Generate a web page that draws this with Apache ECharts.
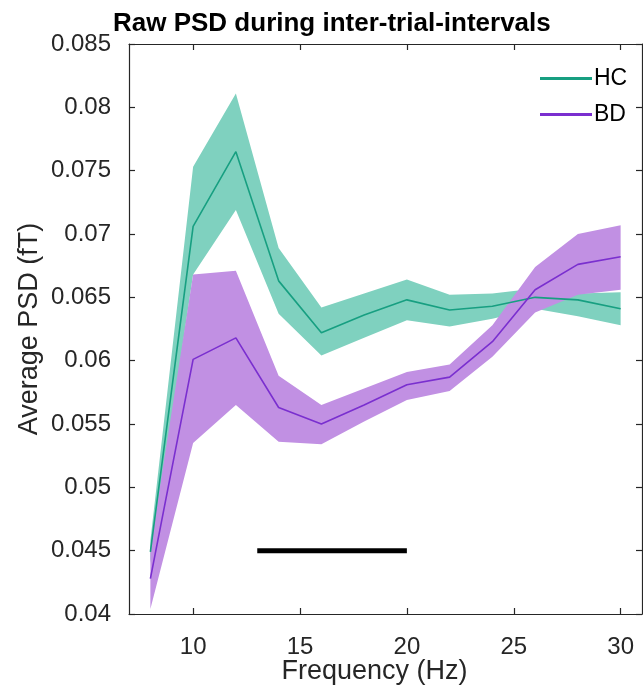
<!DOCTYPE html>
<html><head><meta charset="utf-8">
<script src="https://cdn.jsdelivr.net/npm/echarts@6/dist/echarts.min.js"></script>
<style>html,body{margin:0;padding:0;background:#fff}#c{width:643px;height:686px}</style>
</head><body><div id="c"></div>
<script>
const freqs   = [8, 10, 12, 14, 16, 18, 20, 22, 24, 26, 28, 30];
const hcMean  = [0.0449, 0.0706, 0.0765, 0.0663, 0.0622, 0.0636, 0.0648, 0.0640, 0.0643, 0.0650, 0.0648, 0.0641];
const hcUpper = [0.0458, 0.0753, 0.0811, 0.0689, 0.0642, 0.0653, 0.0664, 0.0652, 0.0653, 0.0657, 0.0653, 0.0654];
const hcLower = [0.0440, 0.0668, 0.0719, 0.0637, 0.0604, 0.0618, 0.0632, 0.0627, 0.0633, 0.0641, 0.0635, 0.0628];
const bdMean  = [0.0428, 0.0601, 0.0618, 0.0563, 0.0550, 0.0565, 0.0581, 0.0587, 0.0615, 0.0656, 0.0676, 0.0682];
const bdUpper = [0.0452, 0.0668, 0.0671, 0.0588, 0.0565, 0.0578, 0.0591, 0.0597, 0.0628, 0.0674, 0.0700, 0.0707];
const bdLower = [0.0404, 0.0535, 0.0565, 0.0536, 0.0534, 0.0552, 0.0569, 0.0576, 0.0603, 0.0638, 0.0652, 0.0656];
const xTicks  = [10, 15, 20, 25, 30];
const sigStart = 13, sigEnd = 20, sigLevel = 0.045;

const HC_LINE = '#179f81', HC_BAND = '#7fd1bf';
const BD_LINE = '#7a2fcf', BD_BAND = '#c190e3';
const AX = '#262626';
const FONT = 'Liberation Sans';

function pts(vals){ return freqs.map((f,i)=>[f, vals[i]]); }
function bandRows(lo, hi){ return freqs.map((f,i)=>[f, lo[i], hi[i]]); }

function bandSeries(name, rows, color, z){
  return {
    name:name, type:'custom', silent:true, z:z,
    encode:{x:0, y:[1,2]},
    data:rows, clip:true,
    renderItem:function(params, api){
      if (params.dataIndex !== 0) return null;
      const up = [], dn = [];
      for (let i = 0; i < rows.length; i++){
        up.push(api.coord([rows[i][0], rows[i][2]]));
        dn.push(api.coord([rows[i][0], rows[i][1]]));
      }
      const poly = up.concat(dn.reverse());
      return {type:'polygon', shape:{points:poly}, style:{fill:color, stroke:null}};
    }
  };
}

const chart = echarts.init(document.getElementById('c'), null, {renderer:'canvas'});
const tick = {show:true, inside:true, length:6, lineStyle:{color:AX, width:1.2}};
const line = {show:true, onZero:false, lineStyle:{color:AX, width:1.2}};
chart.setOption({
  animation:false,
  textStyle:{fontFamily:FONT},
  title:{text:'Raw PSD during inter-trial-intervals', left:108, top:6,
    textStyle:{fontFamily:FONT, fontWeight:'bold', fontSize:26, color:'#000'}},
  legend:{orient:'vertical', left:535, top:62, itemWidth:52, itemHeight:3, itemGap:13,
    icon:'rect', textStyle:{fontFamily:FONT, fontSize:23, color:'#000', padding:[0,0,0,-3]},
    data:['HC','BD']},
  grid:{left:129, right:1, top:44, bottom:72, containLabel:false, outerBoundsMode:'none'},
  xAxis:[
    {type:'value', min:7, max:31, position:'bottom',
      name:'Frequency (Hz)', nameLocation:'middle', nameGap:44, nameMoveOverlap:false,
      nameTextStyle:{fontFamily:FONT, fontSize:27, color:AX, padding:[0,22,0,0]},
      axisLine:line, splitLine:{show:false},
      axisTick:Object.assign({}, tick, {customValues:xTicks}),
      axisLabel:{color:AX, fontSize:24, fontFamily:FONT, margin:21, customValues:xTicks}},
    {type:'value', min:7, max:31, position:'top', axisLabel:{show:false},
      axisLine:line, splitLine:{show:false},
      axisTick:Object.assign({}, tick, {customValues:xTicks})}
  ],
  yAxis:[
    {type:'value', min:0.04, max:0.085, interval:0.005, position:'left',
      name:'Average PSD (fT)', nameLocation:'middle', nameGap:86, nameMoveOverlap:false,
      nameTextStyle:{fontFamily:FONT, fontSize:27, color:AX},
      axisLine:line, axisTick:tick, splitLine:{show:false},
      axisLabel:{color:AX, fontSize:24, fontFamily:FONT, margin:18,
        formatter:v=>String(+v.toFixed(4))}},
    {type:'value', min:0.04, max:0.085, interval:0.005, position:'right',
      axisLabel:{show:false}, axisLine:line, axisTick:tick, splitLine:{show:false}}
  ],
  series:[
    bandSeries('hcBand', bandRows(hcLower, hcUpper), HC_BAND, 1),
    bandSeries('bdBand', bandRows(bdLower, bdUpper), BD_BAND, 2),
    {name:'HC', type:'line', data:pts(hcMean), symbol:'none', color:HC_LINE,
      lineStyle:{color:HC_LINE, width:1.6}, itemStyle:{color:HC_LINE}, z:5},
    {name:'BD', type:'line', data:pts(bdMean), symbol:'none', color:BD_LINE,
      lineStyle:{color:BD_LINE, width:1.6}, itemStyle:{color:BD_LINE}, z:5},
    {name:'sig', type:'line', data:[[sigStart,sigLevel],[sigEnd,sigLevel]], symbol:'none',
      lineStyle:{color:'#000', width:5, cap:'butt'}, z:6}
  ]
});
</script></body></html>
